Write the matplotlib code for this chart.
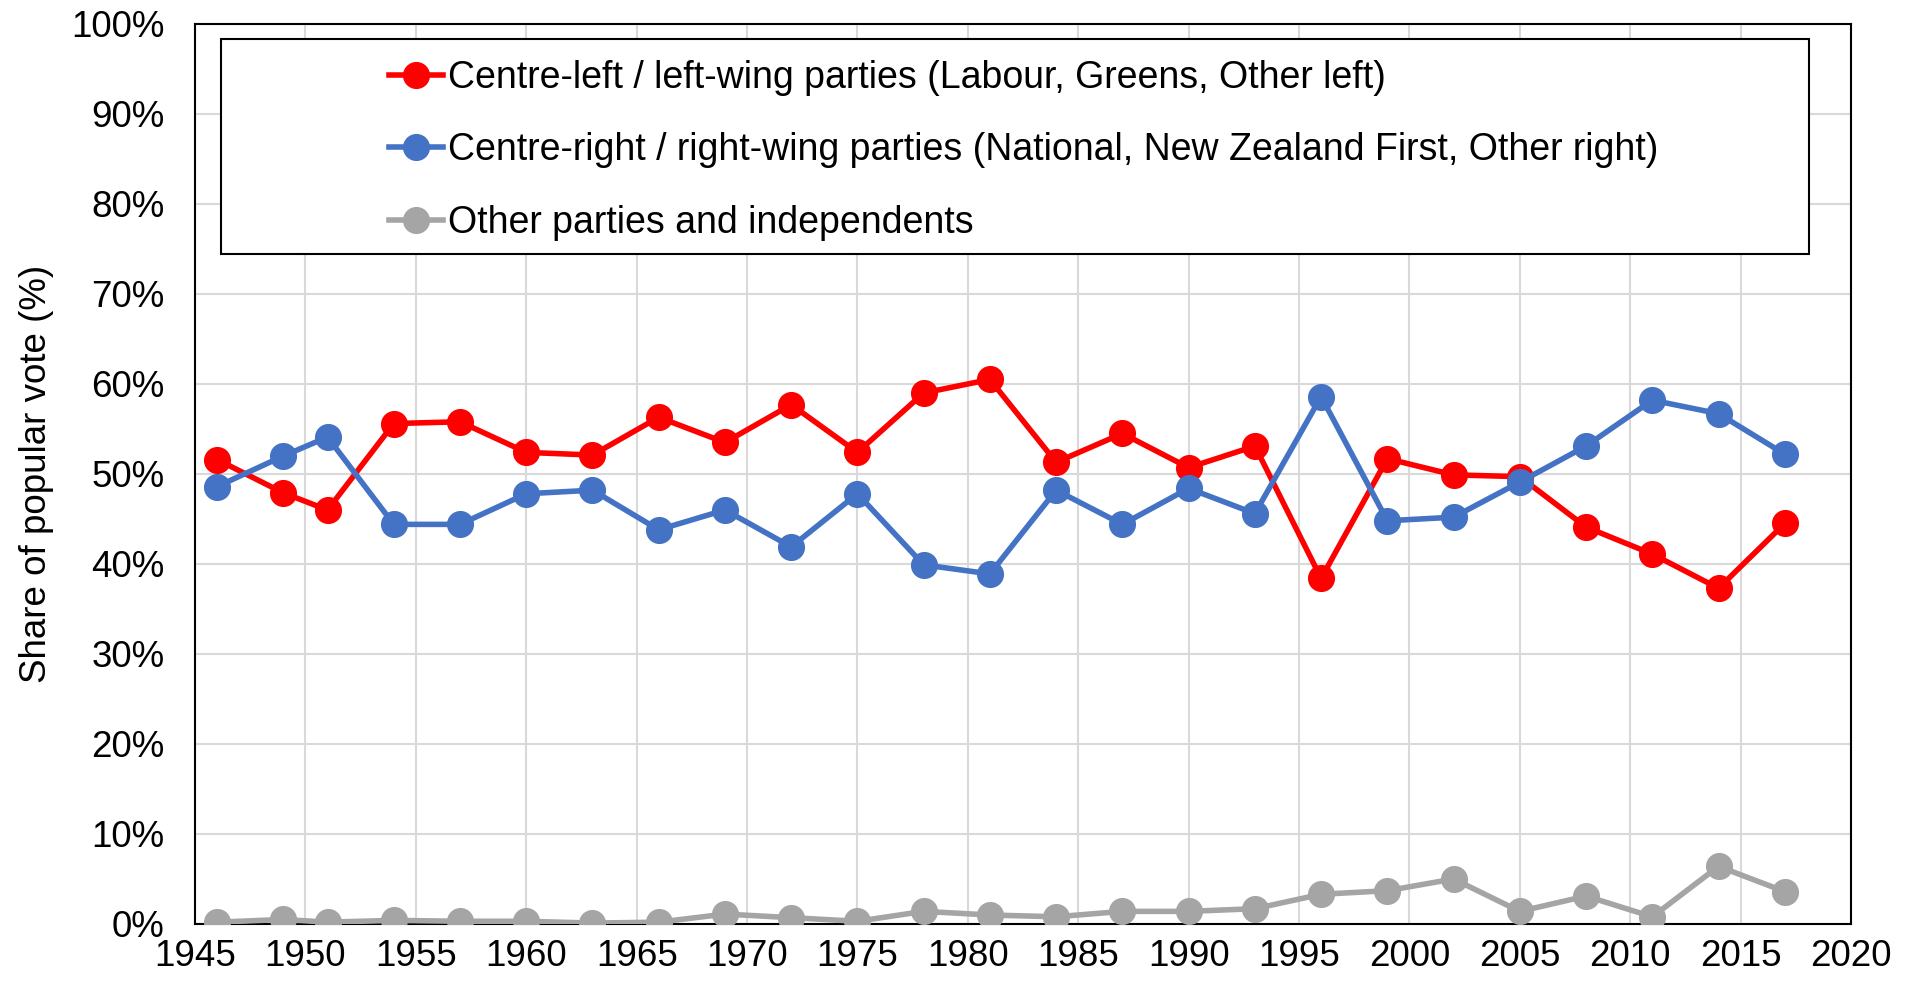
import numpy as np
import matplotlib
matplotlib.use("Agg")
import matplotlib.pyplot as plt
from matplotlib.patches import Rectangle
from matplotlib.ticker import PercentFormatter

plt.rcParams['font.family'] = ['Liberation Sans', 'DejaVu Sans']

years = [1946, 1949, 1951, 1954, 1957, 1960, 1963, 1966, 1969, 1972, 1975, 1978, 1981,
         1984, 1987, 1990, 1993, 1996, 1999, 2002, 2005, 2008, 2011, 2014, 2017]

left_share = [51.6, 47.9, 46.0, 55.6, 55.8, 52.4, 52.1, 56.3, 53.5, 57.7, 52.4, 59.0, 60.5,
              51.3, 54.5, 50.7, 53.1, 38.4, 51.7, 49.9, 49.7, 44.1, 41.1, 37.3, 44.5]
right_share = [48.6, 52.0, 54.1, 44.4, 44.4, 47.8, 48.2, 43.8, 46.0, 41.9, 47.8, 39.9, 38.9,
               48.2, 44.4, 48.4, 45.6, 58.6, 44.8, 45.2, 49.1, 53.1, 58.2, 56.7, 52.2]
other_share = [0.2, 0.5, 0.2, 0.4, 0.3, 0.3, 0.1, 0.2, 1.1, 0.7, 0.3, 1.4, 1.0,
               0.8, 1.4, 1.4, 1.7, 3.3, 3.7, 5.0, 1.4, 3.1, 0.8, 6.4, 3.6]

labels = ['Centre-left / left-wing parties (Labour, Greens, Other left)',
          'Centre-right / right-wing parties (National, New Zealand First, Other right)',
          'Other parties and independents']
colors = ['#FF0000', '#4472C4', '#A5A5A5']

fs = 26.5

fig, ax = plt.subplots(figsize=(19.14, 9.86), dpi=100)
fig.subplots_adjust(left=0.1019, right=0.9671, top=0.9757, bottom=0.0629)

for vals, lab, col in zip([left_share, right_share, other_share], labels, colors):
    ax.plot(years, vals, color=col, lw=4, marker='o', ms=18.5, label=lab, zorder=3)

ax.set_xlim(1945, 2020)
ax.set_ylim(0, 100)
ax.set_xticks(np.arange(1945, 2021, 5))
ax.set_yticks(np.arange(0, 101, 10))
ax.yaxis.set_major_formatter(PercentFormatter(decimals=0))
ax.grid(True, color='#D9D9D9', lw=1.5, zorder=0)
ax.tick_params(length=0, labelsize=fs)
ax.tick_params(axis='y', pad=22)
ax.tick_params(axis='x', pad=11)
for s in ax.spines.values():
    s.set_color('black')
    s.set_linewidth(1.5)
ax.set_ylabel('Share of popular vote (%)', fontsize=fs, labelpad=12)

# legend frame box
ax.add_patch(Rectangle((0.0157, 0.744), 0.959, 0.239, transform=ax.transAxes,
                       facecolor='white', edgecolor='black', lw=1.5, zorder=4))
ax.legend(loc='upper left', bbox_to_anchor=(0.1174, 0.96), frameon=False, fontsize=27,
          handlelength=1.43, handletextpad=0.12, labelspacing=0.97, borderpad=0,
          borderaxespad=0).set_zorder(5)

fig.savefig('out.png', dpi=100)
